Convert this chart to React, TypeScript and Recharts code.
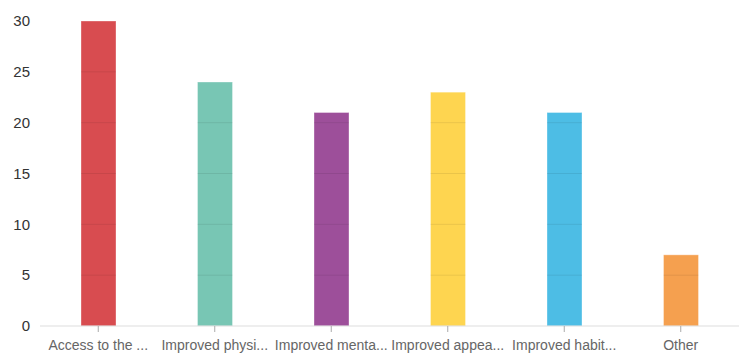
import { Bar, BarChart, Cell, XAxis, YAxis } from "recharts";

const categories = [
  "Access to the ...",
  "Improved physi...",
  "Improved menta...",
  "Improved appea...",
  "Improved habit...",
  "Other",
];
const counts = [30, 24, 21, 23, 21, 7];
const colors = ["#d84c50", "#78c6b4", "#9d4f9a", "#fed550", "#4dbde5", "#f5a04f"];
const yTicks = [0, 5, 10, 15, 20, 25, 30];

const data = categories.map((name, i) => ({ name, value: counts[i] }));

// bar with faint gridlines showing through it
const GridBar = (props: any) => {
  const { x, y, width, height, fill, value } = props;
  const v = Array.isArray(value) ? value[1] : value;
  return (
    <g>
      <rect
        x={x}
        y={y}
        width={width}
        height={height}
        fill={fill}
        stroke="#fff"
        strokeOpacity={0.35}
      />
      {yTicks
        .filter((t) => t > 0 && t < v)
        .map((t) => {
          const ly = y + height - (t / v) * height;
          return (
            <line
              key={t}
              x1={x}
              x2={x + width}
              y1={ly}
              y2={ly}
              stroke="#000"
              strokeOpacity={0.08}
            />
          );
        })}
    </g>
  );
};

export default function App() {
  return (
    <div
      style={{
        position: "fixed",
        left: 0,
        top: 0,
        width: 744,
        height: 353,
        background: "#fff",
        fontFamily: "'Liberation Sans', Arial, sans-serif",
      }}
    >
      <BarChart
        width={744}
        height={353}
        data={data}
        margin={{ top: 21, right: 5, left: 0, bottom: 0 }}
      >
        <XAxis
          dataKey="name"
          interval={0}
          height={27}
          axisLine={{ stroke: "#ddd" }}
          tickLine={{ stroke: "#aaa" }}
          tickSize={6}
          tickMargin={8}
          tick={{ fill: "#666", fontSize: 14 }}
        />
        <YAxis
          width={40}
          domain={[0, 30]}
          ticks={yTicks}
          axisLine={false}
          tickLine={false}
          tickSize={0}
          tickMargin={10}
          tick={{ fill: "#333", fontSize: 15 }}
        />
        <Bar
          dataKey="value"
          barSize={35}
          shape={<GridBar />}
          isAnimationActive={false}
        >
          {data.map((d, i) => (
            <Cell key={d.name} fill={colors[i]} />
          ))}
        </Bar>
      </BarChart>
    </div>
  );
}
